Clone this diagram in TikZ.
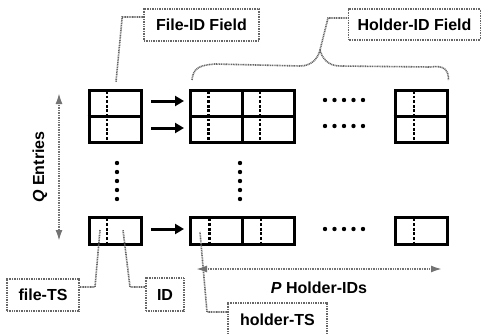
\documentclass[tikz,border=0pt]{standalone}
\usepackage{fontspec}
\setmainfont{Liberation Sans}
\usetikzlibrary{arrows.meta,calc}
\begin{document}
\begin{tikzpicture}[x=1pt,y=-1pt,
  cellbox/.style={draw=black, line width=3pt, inner sep=0pt, minimum width=#1},
  toprow/.style={minimum height=52pt},
  botrow/.style={minimum height=27pt},
  midline/.style={draw=black, line width=2.8pt},
  divline/.style={draw=black, line width=2.4pt},
  dotv/.style={draw=black, line width=2.8pt, dash pattern=on 2.8pt off 1.8pt},
  arr/.style={draw=black, line width=3pt, -{Triangle[length=9pt,width=10pt]}},
  bigdot/.style={fill=black},
  lab/.style={draw=black!60, dash pattern=on 1pt off 0.7pt, line width=1.6pt, inner sep=0pt,
    font=\bfseries\fontsize{16}{18}\selectfont},
  conn/.style={draw=black!60, dash pattern=on 1pt off 0.7pt, line width=1.6pt},
  garr/.style={draw=black!55, dash pattern=on 1pt off 0.7pt, line width=1.8pt,
    {Latex[length=11pt,width=7pt]}-{Latex[length=11pt,width=7pt]}},
  txt/.style={font=\bfseries\fontsize{16}{18}\selectfont, inner sep=0pt}
]
\useasboundingbox (0,0) rectangle (482,333);
\clip (0,0) rectangle (482,333);

% boxes
\node[cellbox=52pt, toprow] (fb1) at (115,116.5) {};
\node[cellbox=104pt, toprow] (hb1) at (242.5,116.5) {};
\node[cellbox=52pt, toprow] (pb1) at (421,116.5) {};
\node[cellbox=52pt, botrow] (fbQ) at (115,231) {};
\node[cellbox=104pt, botrow] (hbQ) at (242.5,231) {};
\node[cellbox=52pt, botrow] (pbQ) at (421,231) {};

% inner lines of top row
\draw[midline] (fb1.west) -- (fb1.east);
\draw[midline] (hb1.west) -- (hb1.east);
\draw[midline] (pb1.west) -- (pb1.east);
\draw[divline] (hb1.north) -- (hb1.south);
\draw[divline] (hbQ.north) -- (hbQ.south);

% dotted separators
\foreach \n/\d in {fb1/19.5, hb1/19.5, hb1/71, pb1/20.5}{
  \draw[dotv] ($(\n.north west)+(\d,2)$) -- ($(\n.south west)+(\d,-2)$);
}
\foreach \n/\d in {fbQ/19.5, hbQ/20.5, hbQ/72, pbQ/20.5}{
  \draw[dotv] ($(\n.north west)+(\d,2.5)$) -- ($(\n.south west)+(\d,-2)$);
}

% arrows
\draw[arr] ($(fb1.east)+(8.5,-15.5)$) -- ($(hb1.west)+(-5,-15.5)$);
\draw[arr] ($(fb1.east)+(8.5,11.5)$) -- ($(hb1.west)+(-5,11.5)$);
\draw[arr] ($(fbQ.east)+(8.5,-2)$) -- ($(hbQ.west)+(-5,-2)$);

% ellipsis dots
\foreach \y in {163,172,181,190,199}{
  \fill[bigdot] (117,\y) circle (2.2);
  \fill[bigdot] (240,\y) circle (2.2);
}
\foreach \x in {325,334.5,344,353.5,363}{
  \fill[bigdot] (\x,100) circle (2.2);
  \fill[bigdot] (\x,126) circle (2.2);
  \fill[bigdot] (\x,229) circle (2.2);
}

% labels
\node[lab, minimum width=115pt, minimum height=32pt] (filelab) at (201.5,25) {File-ID Field};
\node[lab, minimum width=132pt, minimum height=31pt] (holdlab) at (414.5,24.5) {Holder-ID Field};
\node[lab, minimum width=72pt, minimum height=32pt] (tslab) at (43,295) {file-TS};
\node[lab, minimum width=38pt, minimum height=33pt] (idlab) at (165,294.5) {ID};
\node[lab, minimum width=99pt, minimum height=34pt] (htslab) at (277.5,320) {holder-TS};

% connector targets
\coordinate (fidpt) at ($(fb1.north)+(1,-7)$);
\coordinate (ftspt) at ($(fbQ.west)+(12.5,-1)$);
\coordinate (idpt) at ($(fbQ.west)+(35.5,-1)$);
\coordinate (htspt) at ($(hbQ.west)+(11,1)$);
\coordinate (bl) at ($(hb1.north west)+(3,-9)$);
\coordinate (br) at ($(pb1.north east)+(0,-9)$);
\coordinate (peak) at (320,50);

% connectors
\draw[conn] ([yshift=8pt]filelab.west) -- ++(-21,0) -- (fidpt);
\draw[conn] (bl) .. controls ($(bl)+(1,-12)$) and ($(bl)+(8,-15)$) .. ($(bl)+(23,-16)$)
  -- (300,66) .. controls (312,66) and (318,58) .. (peak)
  .. controls (322,58) and (328,66) .. (340,66) -- (430,67)
  .. controls ($(br)+(-4,-15)$) and ($(br)+(0,-10)$) .. (br);
\draw[conn] (peak) -- (328,18) -- ([yshift=6.5pt]holdlab.west);
\draw[conn] ([yshift=8pt]tslab.east) -- (95,287) -- (ftspt);
\draw[conn] ([yshift=7.5pt]idlab.west) -- (130,287) -- (idpt);
\draw[conn] ([yshift=8pt]htslab.west) -- (207,312) -- (htspt);

% dimension arrows
\coordinate (qtop) at (59,93);
\coordinate (qbot) at (59,241);
\coordinate (pleft) at (196,269);
\coordinate (pright) at (442,269);
\draw[garr] (qtop) -- (qbot);
\draw[garr] (pleft) -- (pright);
\node[txt, rotate=90] (qlab) at (40,167) {\textit{Q} Entries};
\node[txt] (plab) at (319,288) {\textit{P} Holder-IDs};
\end{tikzpicture}
\end{document}
